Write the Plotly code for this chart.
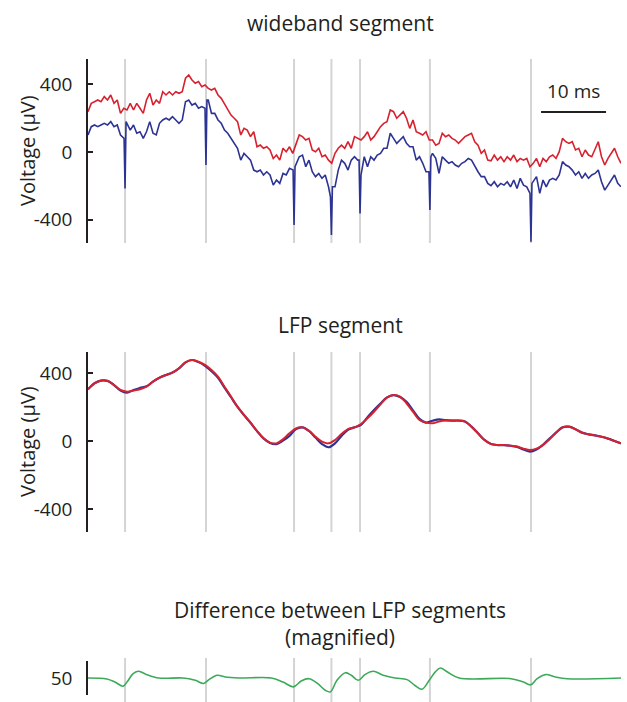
import numpy as np
import plotly.graph_objects as go

# ---------------- data ----------------
SAMPLE_MS = 0.5  # wideband sample spacing (ms)

wideband_red = [
    239, 288, 298, 308, 298, 328, 308, 338, 288, 308,
    229, 259, 249, 288, 249, 288, 259, 229, 308, 348,
    278, 308, 288, 357, 338, 357, 338, 357, 348, 357,
    437, 456, 427, 407, 417, 387, 397, 377, 367, 377,
    338, 318, 285, 249, 219, 200, 180, 101, 140, 130,
    91, 120, 31, 41, 22, 31, 12, -38, -18, -48,
    22, 2, 31, -8, 51, 101, 91, 71, 81, 12,
    2, 22, -28, -18, -48, -67, -8, 22, 41, 22,
    61, 22, 91, 81, 71, 91, 120, 71, 91, 120,
    150, 170, 180, 249, 239, 200, 219, 239, 200, 140,
    190, 120, 111, 101, 120, 71, 71, 41, 51, 111,
    91, 101, 81, 71, 51, 71, 91, 101, 111, 61,
    41, -8, 12, -48, -52, -18, -48, -28, -57, -28,
    -48, -18, -57, -38, -48, -38, -87, -67, -38, -87,
    -38, -57, -28, -18, -38, 2, 81, 61, 51, 61,
    12, 22, -28, 12, -18, -28, 22, 61, -28, -77,
    -38, -8, 22, -28, -67,
]

wideband_blue = [
    101, 150, 160, 150, 160, 170, 160, 180, 150, 160,
    101, 91, 180, 130, 160, 111, 120, 81, 120, 180,
    111, 101, 170, 190, 200, 190, 209, 190, 170, 190,
    298, 308, 278, 288, 259, 269, 259, 308, 229, 229,
    190, 170, 130, 111, 81, 51, 22, -48, -8, -28,
    -48, -107, -117, -107, -136, -117, -136, -196, -166, -186,
    -127, -136, -97, -107, -87, -28, -18, -87, -48, -117,
    -146, -127, -156, -136, -206, -190, -206, -107, -48, -67,
    -107, -48, -28, -48, -136, -28, -87, -28, -48, -18,
    -8, 22, 22, 111, 81, 51, 71, 91, 51, 31,
    31, -48, -28, -67, -117, -28, -8, -38, -127, -28,
    -48, -67, -57, -77, -87, -67, -57, -38, -48, -87,
    -117, -146, -146, -186, -200, -176, -206, -186, -196, -176,
    -206, -166, -216, -156, -196, -206, -245, -186, -146, -245,
    -166, -206, -166, -156, -166, -136, -57, -77, -87, -107,
    -136, -117, -156, -127, -156, -136, -127, -107, -176, -226,
    -196, -166, -136, -186, -206,
]

# spike events (ms); trace level just before / after and trough of each spike (uV)
event_times = [5.7, 18.15, 31.7, 37.45, 41.85, 52.6, 68.15]
spike_pre = [81, 259, -107, -265, -48, -117, -245]
spike_troughs = [-216, -77, -432, -492, -364, -344, -531]
spike_post = [180, 308, -87, -206, -136, -28, -186]
SPIKE_HALF_MS = 0.15

# LFP segment, 1 ms spacing
LFP_MS = 1.0
lfp_red = [
    304, 339, 355, 353, 329, 300, 290, 296, 304, 319,
    349, 372, 388, 402, 427, 462, 476, 466, 447, 417,
    378, 319, 261, 202, 153, 108, 59, 16, -10, -14,
    10, 45, 74, 80, 59, 25, -4, -14, 6, 41,
    70, 80, 100, 133, 172, 215, 255, 270, 261, 221,
    172, 123, 108, 104, 114, 120, 120, 120, 114, 84,
    45, 6, -18, -24, -24, -28, -33, -45, -53, -45,
    -24, 10, 49, 80, 84, 69, 49, 39, 33, 25,
    14, 0, -14,
]
lfp_blue = [
    304, 339, 355, 353, 329, 296, 284, 300, 312, 322,
    349, 372, 388, 402, 427, 462, 476, 464, 442, 410,
    372, 314, 257, 200, 152, 107, 58, 15, -12, -18,
    2, 30, 70, 80, 59, 20, -18, -37, -14, 30,
    66, 80, 95, 140, 182, 220, 256, 270, 258, 230,
    180, 130, 108, 119, 127, 122, 120, 120, 114, 84,
    45, 6, -18, -24, -24, -28, -35, -50, -63, -50,
    -22, 14, 49, 80, 84, 69, 49, 39, 33, 25,
    14, 0, -14,
]

# difference between LFP segments (magnified), read at these times (ms)
diff_t = [0, 2.9, 4.15, 5.4, 6.0, 6.9, 7.7, 8.8, 10.9, 14.6, 16.5, 17.8, 18.6,
          19.9, 21.1, 23.2, 28.2, 30.0, 31.6, 32.8, 34.0, 35.3, 36.5, 37.3,
          38.3, 39.6, 40.5, 41.6, 42.6, 43.9, 45.4, 47.3, 49.1, 50.3, 51.4,
          52.5, 53.4, 54.2, 55.3, 57.1, 65.1, 67.0, 68.1, 69.1, 70.4, 71.9,
          73.7, 82]
diff_v = [50, 48.5, 44, 38, 44, 56, 60, 56, 50, 50, 46.6, 42, 47.6,
          54, 51.5, 50, 50, 44, 37, 45.6, 49, 42, 32, 29.6,
          46.6, 57.8, 54, 46.6, 55, 60, 54, 50, 47.6, 39, 33.5,
          46.6, 58.7, 64.6, 58.7, 50, 49, 44, 40, 49, 55, 51.5,
          49, 50]

volt_ticks = [-400, 0, 400]
volt_tick_text = ["-400", "0", "400"]
diff_ticks = [50]
diff_tick_text = ["50"]

scalebar_start_ms = 69.7
scalebar_len_ms = 10
scalebar_label = "10 ms"

titles = ["wideband segment", "LFP segment",
          "Difference between LFP segments<br>(magnified)"]
ylabel = "Voltage (\u03bcV)"

# ---------------- styling ----------------
W, H = 627, 702
RED = "#d7212e"
BLUE = "#2d3392"
GREEN = "#3daa5a"
GRAY = "#d4d4d4"
INK = "#231f20"
FONT = "Open Sans"

def py(p):  # pixel row -> paper y
    return 1 - p / H

def px(p):  # pixel col -> paper x
    return p / W

x_dom = [px(88), px(621)]
t_range = [0, 82]

# time bases
t_wb = np.arange(len(wideband_red)) * SAMPLE_MS
t_wb_blue = np.arange(len(wideband_blue)) * SAMPLE_MS
t_lfp = np.arange(len(lfp_red)) * LFP_MS

# merge spikes into blue trace
ev = np.array(event_times)
bt = np.concatenate([t_wb_blue, ev - SPIKE_HALF_MS, ev, ev + SPIKE_HALF_MS])
bv = np.concatenate([np.array(wideband_blue, float), np.array(spike_pre, float),
                     np.array(spike_troughs, float), np.array(spike_post, float)])
# drop grid samples that fall inside a spike window
keep = np.ones(len(bt), bool)
n_grid = len(t_wb_blue)
for e in ev:
    inside = np.abs(t_wb_blue - e) < SPIKE_HALF_MS + 0.2
    keep[:n_grid][inside] = False
bt, bv = bt[keep], bv[keep]
order = np.argsort(bt, kind="stable")
bt, bv = bt[order], bv[order]

fig = go.Figure()

fig.add_trace(go.Scatter(x=t_wb, y=wideband_red, mode="lines",
                         line=dict(color=RED, width=1.6), xaxis="x", yaxis="y",
                         showlegend=False, hoverinfo="skip"))
fig.add_trace(go.Scatter(x=bt, y=bv, mode="lines",
                         line=dict(color=BLUE, width=1.6), xaxis="x", yaxis="y",
                         showlegend=False, hoverinfo="skip"))

fig.add_trace(go.Scatter(x=t_lfp, y=lfp_blue, mode="lines", line_shape="spline",
                         line=dict(color=BLUE, width=2.2), xaxis="x2", yaxis="y2",
                         showlegend=False, hoverinfo="skip"))
fig.add_trace(go.Scatter(x=t_lfp, y=lfp_red, mode="lines", line_shape="spline",
                         line=dict(color=RED, width=2.0), xaxis="x2", yaxis="y2",
                         showlegend=False, hoverinfo="skip"))

fig.add_trace(go.Scatter(x=diff_t, y=diff_v, mode="lines", line_shape="spline",
                         line=dict(color=GREEN, width=1.6), xaxis="x3", yaxis="y3",
                         showlegend=False, hoverinfo="skip"))

# event lines
shapes = []
for t in event_times:
    for xr, yr, y0, y1 in [("x", "y domain", 0, 1), ("x2", "y2 domain", 0, 1),
                           ("x3", "y3 domain", -0.3, 1.09)]:
        shapes.append(dict(type="line", xref=xr, yref=yr, x0=t, x1=t, y0=y0, y1=y1,
                           line=dict(color=GRAY, width=2), layer="below"))
# scale bar
shapes.append(dict(type="line", xref="x", yref="paper",
                   x0=scalebar_start_ms, x1=scalebar_start_ms + scalebar_len_ms,
                   y0=py(112), y1=py(112), line=dict(color=INK, width=2)))

axis_common = dict(showgrid=False, zeroline=False, showline=True, linecolor=INK,
                   linewidth=1.5, ticks="inside", ticklen=5, tickwidth=1.5,
                   tickcolor=INK, tickfont=dict(family=FONT, size=19, color=INK),
                   ticklabelstandoff=10)
xaxis_common = dict(visible=False, range=t_range, domain=x_dom)

fig.update_layout(
    width=W, height=H, margin=dict(l=0, r=0, t=0, b=0),
    paper_bgcolor="white", plot_bgcolor="white", showlegend=False,
    xaxis=dict(**xaxis_common, anchor="y"),
    xaxis2=dict(**xaxis_common, anchor="y2"),
    xaxis3=dict(**xaxis_common, anchor="y3"),
    yaxis=dict(**axis_common, domain=[py(243), py(59)], range=[-539, 551],
               tickvals=volt_ticks, ticktext=volt_tick_text, anchor="x"),
    yaxis2=dict(**axis_common, domain=[py(532), py(352)], range=[-535, 523],
                tickvals=volt_ticks, ticktext=volt_tick_text, anchor="x2"),
    yaxis3=dict(**{**axis_common, "ticks": ""}, domain=[py(695), py(661)],
                range=[25, 75], tickvals=diff_ticks, ticktext=diff_tick_text,
                anchor="x3"),
    shapes=shapes,
)

title_font = dict(family=FONT, size=21, color=INK)
label_font = dict(family=FONT, size=20, color=INK)
annotations = [
    dict(text=titles[0], x=px(340), y=py(23), xref="paper", yref="paper",
         showarrow=False, font=title_font, xanchor="center", yanchor="middle"),
    dict(text=titles[1], x=px(340), y=py(325), xref="paper", yref="paper",
         showarrow=False, font=title_font, xanchor="center", yanchor="middle"),
    dict(text=titles[2], x=px(340), y=py(623), xref="paper", yref="paper",
         showarrow=False, font=title_font, xanchor="center", yanchor="middle"),
    dict(text=ylabel, x=px(27), y=py(151), xref="paper", yref="paper",
         showarrow=False, font=label_font, textangle=-90,
         xanchor="center", yanchor="middle"),
    dict(text=ylabel, x=px(27), y=py(442), xref="paper", yref="paper",
         showarrow=False, font=label_font, textangle=-90,
         xanchor="center", yanchor="middle"),
    dict(text=scalebar_label, x=scalebar_start_ms + scalebar_len_ms / 2, y=py(91),
         xref="x", yref="paper", showarrow=False,
         font=dict(family=FONT, size=19, color=INK),
         xanchor="center", yanchor="middle"),
]
fig.update_layout(annotations=annotations)

fig.write_html("out.html", config={"displayModeBar": False},
               post_script="document.body.style.margin='0';")
